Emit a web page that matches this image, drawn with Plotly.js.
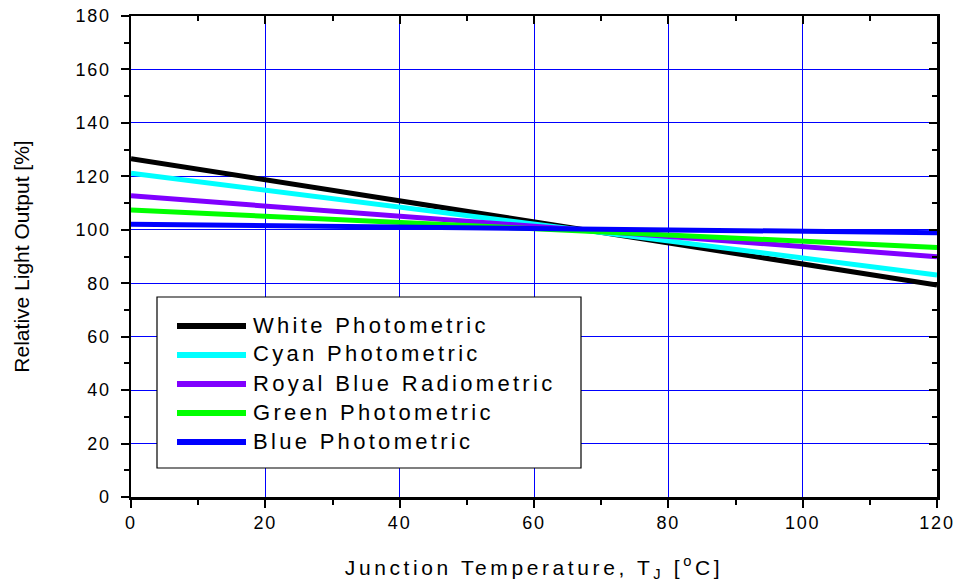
<!DOCTYPE html>
<html>
<head>
<meta charset="utf-8">
<script src="https://cdn.plot.ly/plotly-3.0.1.min.js"></script>
<style>
  html, body { margin: 0; padding: 0; background: #fff; }
  #chart { width: 962px; height: 583px; }
  .xtick text, .ytick text { letter-spacing: 1.8px; }
  .g-xtitle text { letter-spacing: 3.6px; }
  .annotation-text { letter-spacing: 3.3px; }
</style>
</head>
<body>
<div id="chart"></div>
<script>
// Junction temperature (deg C) at the ends of each straight line
const temperature = [0, 120];
const seriesNames = ["White Photometric", "Cyan Photometric", "Royal Blue Radiometric", "Green Photometric", "Blue Photometric"];
const whiteValues = [126.6, 79.3];
const cyanValues = [121.2, 83.1];
const royalBlueValues = [112.7, 89.9];
const greenValues = [107.4, 93.4];
const blueValues = [102.1, 98.9];
const seriesColors = ["#000000", "#00ffff", "#8000ff", "#00ff00", "#0000ff"];
const xTicks = [0, 20, 40, 60, 80, 100, 120];
const yTicks = [0, 20, 40, 60, 80, 100, 120, 140, 160, 180];

const allValues = [whiteValues, cyanValues, royalBlueValues, greenValues, blueValues];
const font = "Arial, 'Liberation Sans', sans-serif";

const traces = allValues.map((v, i) => ({
  x: temperature, y: v, type: "scatter", mode: "lines", name: seriesNames[i],
  line: { color: seriesColors[i], width: 5 }, showlegend: false, hoverinfo: "skip"
}));
// invisible trace so the mirrored inside-tick axes are drawn
traces.push({ x: [temperature[0]], y: [yTicks[0]], xaxis: "x2", yaxis: "y2", mode: "markers",
  marker: { opacity: 0 }, showlegend: false, hoverinfo: "skip" });

// Manual legend (box + samples + labels) in paper coordinates
const plotL = 131, plotR = 937, plotT = 16, plotB = 497;
const px = (p) => (p - plotL) / (plotR - plotL);
const py = (p) => (plotB - p) / (plotB - plotT);
const shapes = [{
  type: "rect", xref: "paper", yref: "paper", layer: "above",
  x0: px(157), x1: px(581), y0: py(468), y1: py(297),
  fillcolor: "#ffffff", line: { color: "#000000", width: 1.2 }
}];
const annotations = [];
seriesNames.forEach((n, i) => {
  const yy = 326 + i * 29;
  shapes.push({
    type: "line", xref: "paper", yref: "paper", layer: "above",
    x0: px(177), x1: px(246), y0: py(yy), y1: py(yy),
    line: { color: seriesColors[i], width: 6 }
  });
  annotations.push({
    xref: "paper", yref: "paper", x: px(251), y: py(yy - 1), xanchor: "left", yanchor: "middle",
    text: n, showarrow: false, font: { family: font, size: 22, color: "#000" }
  });
});

const layout = {
  width: 962, height: 583,
  margin: { l: plotL, r: 962 - plotR, t: plotT, b: 583 - plotB },
  paper_bgcolor: "#ffffff", plot_bgcolor: "#ffffff",
  font: { family: font, color: "#000" },
  xaxis: {
    range: [0, 120], tickvals: xTicks, ticktext: xTicks.map(String),
    showgrid: true, gridcolor: "#0000ff", gridwidth: 1, zeroline: false,
    showline: true, linecolor: "#000", linewidth: 2.5, mirror: true,
    ticks: "outside", ticklen: 8, tickwidth: 2, tickcolor: "#000",
    minor: { dtick: 10, tick0: 0, ticks: "outside", ticklen: 5, tickwidth: 2, tickcolor: "#000", showgrid: false },
    tickfont: { family: font, size: 18, color: "#000" },
    title: { text: "Junction Temperature, T<sub>J</sub> [<sup>o</sup>C]", font: { family: font, size: 21, color: "#000" }, standoff: 28 }
  },
  yaxis: {
    range: [0, 180], tickvals: yTicks, ticktext: yTicks.map(String),
    showgrid: true, gridcolor: "#0000ff", gridwidth: 1, zeroline: false,
    showline: true, linecolor: "#000", linewidth: 2.5, mirror: true,
    ticks: "outside", ticklen: 8, tickwidth: 2, tickcolor: "#000", ticklabelstandoff: 6,
    minor: { dtick: 10, tick0: 0, ticks: "outside", ticklen: 5, tickwidth: 2, tickcolor: "#000", showgrid: false },
    tickfont: { family: font, size: 18, color: "#000" },
    title: { text: "Relative Light Output [%]", font: { family: font, size: 21, color: "#000" }, standoff: 40 }
  },
  xaxis2: {
    overlaying: "x", side: "top", range: [0, 120], tickvals: xTicks,
    showticklabels: false, showgrid: false, zeroline: false, showline: false,
    ticks: "inside", ticklen: 8, tickwidth: 2, tickcolor: "#000",
    minor: { dtick: 10, tick0: 0, ticks: "inside", ticklen: 5, tickwidth: 2, tickcolor: "#000" }
  },
  yaxis2: {
    overlaying: "y", side: "right", range: [0, 180], tickvals: yTicks,
    showticklabels: false, showgrid: false, zeroline: false, showline: false,
    ticks: "inside", ticklen: 8, tickwidth: 2, tickcolor: "#000",
    minor: { dtick: 10, tick0: 0, ticks: "inside", ticklen: 5, tickwidth: 2, tickcolor: "#000" }
  },
  shapes: shapes,
  annotations: annotations,
  showlegend: false
};

Plotly.newPlot("chart", traces, layout, { displayModeBar: false, staticPlot: true });
</script>
</body>
</html>
